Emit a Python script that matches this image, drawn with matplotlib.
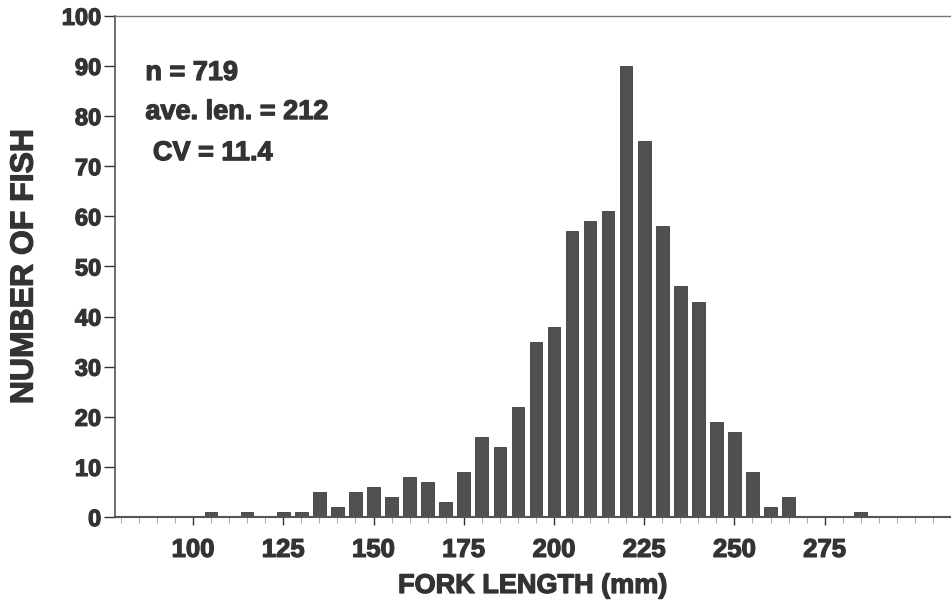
import numpy as np
import matplotlib
matplotlib.use('Agg')
import matplotlib.pyplot as plt
import matplotlib.patheffects as pe
from matplotlib.ticker import MultipleLocator

# fork length bins (mm) and counts
lengths = [105, 115, 125, 130, 135, 140, 145, 150, 155, 160, 165, 170, 175,
           180, 185, 190, 195, 200, 205, 210, 215, 220, 225, 230, 235, 240,
           245, 250, 255, 260, 265, 285]
counts = [1, 1, 1, 1, 5, 2, 5, 6, 4, 8, 7, 3, 9,
          16, 14, 22, 35, 38, 57, 59, 61, 90, 75, 58, 46, 43,
          19, 17, 9, 2, 4, 1]
x_ticks = [100, 125, 150, 175, 200, 225, 250, 275]
y_ticks = list(range(0, 101, 10))
stats = ["n = 719", "ave. len. = 212", " CV = 11.4"]

plt.rcParams['font.family'] = ['Liberation Sans', 'DejaVu Sans']
plt.rcParams['font.weight'] = 'bold'
ink = '#333333'
# the scanned lettering is heavier than a plain bold face
heavy = [pe.withStroke(linewidth=0.9, foreground=ink)]

fig = plt.figure(figsize=(9.51, 6.09), dpi=100)
ax = fig.add_axes([0.121, 0.151, 0.879, 0.823])

ax.bar(lengths, counts, width=3.5, color='#505050', edgecolor='#3c3c3c', linewidth=0.6)

ax.set_xlim(78.4, 310)
ax.set_ylim(0, 100)
ax.set_xticks(x_ticks)
ax.set_yticks(y_ticks)
ax.xaxis.set_minor_locator(MultipleLocator(5))

ax.tick_params(axis='x', which='major', direction='out', length=6, width=1, colors=ink,
               labelsize=18.5, pad=9)
ax.tick_params(axis='x', which='minor', direction='out', length=4, width=0.6, colors='#999999')
ax.tick_params(axis='y', which='major', direction='out', length=8, width=1, colors=ink,
               labelsize=17, pad=2)

for lab in ax.get_xticklabels() + ax.get_yticklabels():
    lab.set_fontweight('bold')
    lab.set_path_effects(heavy)

ax.spines['right'].set_visible(False)
ax.spines['left'].set_color('#555555')
ax.spines['bottom'].set_color('#555555')
ax.spines['top'].set_color('#777777')
ax.spines['left'].set_linewidth(1.2)
ax.spines['bottom'].set_linewidth(1.5)
ax.spines['top'].set_linewidth(1.0)

xl = ax.set_xlabel("FORK LENGTH (mm)", fontsize=19.5, fontweight='bold', color=ink, labelpad=8)
yl = ax.set_ylabel("NUMBER OF FISH", fontsize=23, fontweight='bold', color=ink, labelpad=16)
xl.set_path_effects(heavy)
yl.set_path_effects(heavy)

ys = [88.6, 80.8, 72.6]
for s, y in zip(stats, ys):
    t = ax.text(86.8, y, s, fontsize=19.5, fontweight='bold', color=ink, va='center')
    t.set_path_effects(heavy)

fig.savefig('out.png', dpi=100)
